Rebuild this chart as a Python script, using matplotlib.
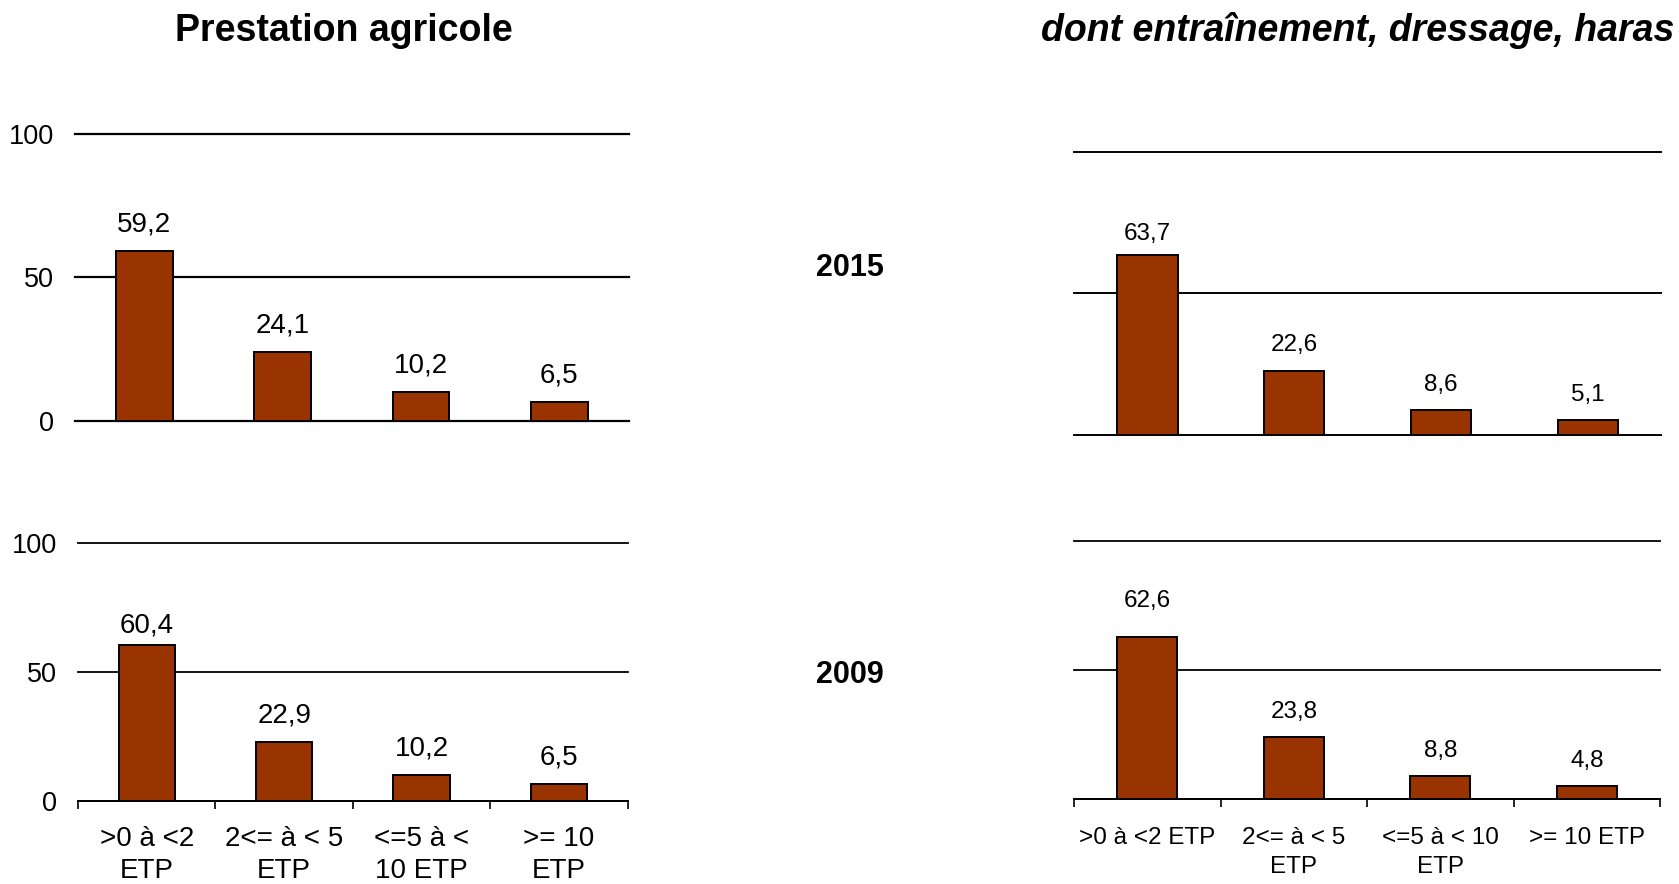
import numpy as np
import matplotlib
matplotlib.use("Agg")
import matplotlib.pyplot as plt

plt.rcParams['font.family'] = ['Liberation Sans', 'DejaVu Sans']

# categories (left and right panels wrap the labels differently)
cats_left = [">0 à <2\nETP", "2<= à < 5\nETP", "<=5 à <\n10 ETP", ">= 10\nETP"]
cats_right = [">0 à <2 ETP", "2<= à < 5\nETP", "<=5 à < 10\nETP", ">= 10 ETP"]

# shares in % by size class
agri_2015 = [59.2, 24.1, 10.2, 6.5]
agri_2009 = [60.4, 22.9, 10.2, 6.5]
equi_2015 = [63.7, 22.6, 8.6, 5.1]
equi_2009 = [62.6, 23.8, 8.8, 4.8]

years = ["2015", "2009"]
yticks = [0, 50, 100]

BAR_COLOR = "#993300"

fig = plt.figure(figsize=(16.79, 8.84), dpi=100)

# [left, bottom, width, height] in figure fraction
boxes = {
    "tl": [0.0447, 0.5240, 0.3297, 0.3245],
    "bl": [0.0465, 0.0939, 0.3273, 0.2918],
    "tr": [0.6397, 0.5083, 0.3496, 0.3198],
    "br": [0.6397, 0.0964, 0.3490, 0.2918],
}


def draw_panel(box, values, labels, fs, show_y, bottom, grid_lw, lsp,
               first_off, xpad):
    ax = fig.add_axes(box)
    x = np.arange(len(values))
    bars = ax.bar(x, values, width=0.41, color=BAR_COLOR, edgecolor="black",
                  linewidth=1.4, zorder=3)
    ax.set_xlim(-0.5, len(values) - 0.5)
    ax.set_ylim(0, 100)
    ax.set_yticks(yticks)
    ax.yaxis.grid(True, color="black", linewidth=grid_lw)
    for gl in ax.get_ygridlines():
        gl.set_clip_on(False)
    ax.set_axisbelow(True)
    for s in ["top", "right", "left"]:
        ax.spines[s].set_visible(False)
    ax.tick_params(axis="y", length=0, pad=15, labelsize=19.5)
    if not show_y:
        ax.set_yticklabels([])

    if bottom:
        ax.spines["bottom"].set_linewidth(grid_lw)
        ax.set_xticks(x)
        ax.set_xticklabels(labels, fontsize=fs, linespacing=lsp)
        ax.set_xticks(np.arange(len(values) + 1) - 0.5, minor=True)
        ax.tick_params(axis="x", which="major", length=0, pad=xpad)
        ax.tick_params(axis="x", which="minor", length=6, width=1.2)
    else:
        ax.spines["bottom"].set_visible(False)
        ax.set_xticks([])

    for i, (b, v) in enumerate(zip(bars, values)):
        off = first_off if i == 0 else 14
        ax.annotate(f"{v:.1f}".replace(".", ","),
                    (b.get_x() + b.get_width() / 2, b.get_height()),
                    xytext=(0, off), textcoords="offset points",
                    ha="center", va="baseline", fontsize=fs)
    return ax


draw_panel(boxes["tl"], agri_2015, cats_left, 20, True, False, 1.6, 1.3, 13.8, 18)
draw_panel(boxes["bl"], agri_2009, cats_left, 20, True, True, 1.3, 1.3, 9, 18)
draw_panel(boxes["tr"], equi_2015, cats_right, 17.5, False, False, 1.4, 1.45, 10.5, 20)
draw_panel(boxes["br"], equi_2009, cats_right, 17.5, False, True, 1.3, 1.45, 22, 20)

fig.text(0.2049, 0.954, "Prestation agricole", fontsize=27,
         fontweight="bold", ha="center", va="baseline")
fig.text(0.8088, 0.954, "dont entraînement, dressage, haras", fontsize=27,
         fontweight="bold", fontstyle="italic", ha="center", va="baseline")

fig.text(0.506, 1 - 276 / 884, years[0], fontsize=22, fontweight="bold",
         ha="center", va="baseline")
fig.text(0.506, 1 - 683 / 884, years[1], fontsize=22, fontweight="bold",
         ha="center", va="baseline")

fig.savefig("out.png", dpi=100)
